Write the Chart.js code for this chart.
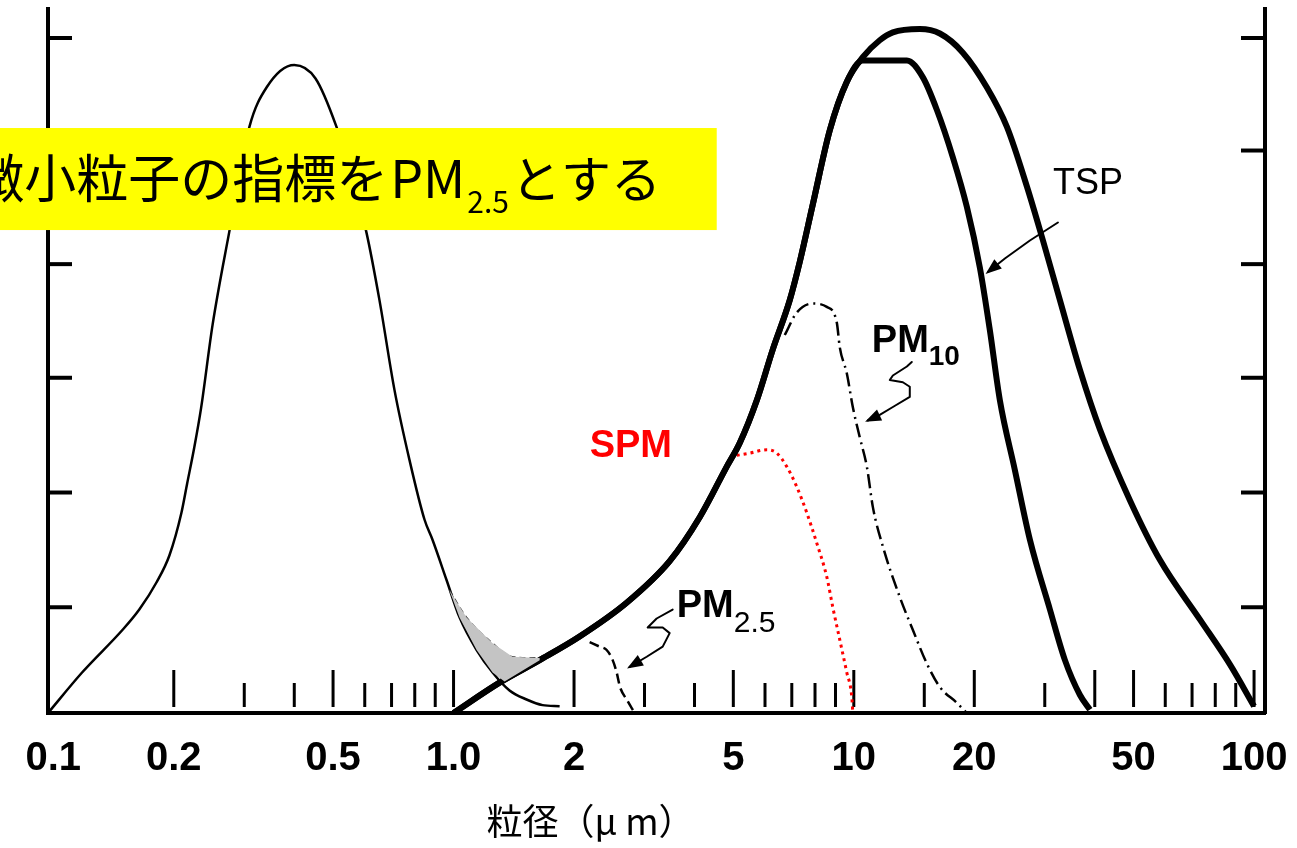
<!DOCTYPE html>
<html>
<head>
<meta charset="utf-8">
<script src="https://cdn.jsdelivr.net/npm/chart.js@4.4.1/dist/chart.umd.min.js"></script>
<style>
html,body{margin:0;padding:0;background:#fff;}
canvas{display:block;}
</style>
</head>
<body>
<canvas id="chart" width="1297" height="848"></canvas>
<script>
// particle diameter (um) on x, relative amount on y

// fine (accumulation) mode, thin line
var fineX = [0.097, 0.118, 0.149, 0.164, 0.181, 0.195, 0.209, 0.216, 0.225, 0.234, 0.250, 0.275, 0.309, 0.341, 0.400, 0.452, 0.510, 0.556, 0.606, 0.653, 0.712, 0.776, 0.846, 0.886, 0.961, 1.035, 1.142, 1.252, 1.380, 1.522, 1.669, 1.841];
var fineY = [0, 0.36, 0.74, 0.92, 1.16, 1.40, 1.78, 2.04, 2.36, 2.71, 3.45, 4.27, 5.21, 5.56, 5.76, 5.64, 5.21, 4.78, 4.27, 3.67, 2.87, 2.25, 1.72, 1.54, 1.18, 0.85, 0.56, 0.36, 0.20, 0.12, 0.07, 0.06];

// coarse mode rising side, shared by TSP and PM10 thick curves
var riseX = [1.0, 1.303, 1.641, 2.065, 2.707, 3.467, 4.121, 4.815, 5.188, 5.724, 6.273, 6.918, 7.328, 7.898, 8.710, 9.605];
var riseY = [0, 0.27, 0.47, 0.68, 0.98, 1.35, 1.74, 2.19, 2.40, 2.78, 3.23, 3.67, 4.01, 4.52, 5.18, 5.61];

// TSP falling side
var tspX = [10.53, 11.61, 12.52, 14.62, 16.41, 18.73, 21.51, 24.13, 27.07, 29.69, 32.73, 36.73, 41.21, 48.98, 58.21, 73.28, 87.10, 100];
var tspY = [5.83, 5.98, 6.05, 6.08, 6.04, 5.87, 5.56, 5.21, 4.68, 4.20, 3.67, 3.05, 2.52, 1.89, 1.36, 0.83, 0.43, 0.06];

// inner thick curve falling side
var innerX = [10.53, 10.96, 13.57, 14.88, 16.13, 17.68, 19.16, 20.65, 21.88, 23.17, 25.26, 27.54, 30.90, 33.69, 36.73, 38.90];
var innerY = [5.80, 5.80, 5.80, 5.65, 5.36, 4.94, 4.50, 3.96, 3.40, 2.78, 2.16, 1.54, 0.92, 0.47, 0.16, 0.03];

// PM10 (dash-dot)
var pm10X = [6.722, 7.205, 7.898, 8.561, 9.069, 9.226, 9.605, 9.943, 10.35, 10.78, 11.16, 11.82, 13.03, 14.04, 15.22, 16.41, 18.10, 19.16];
var pm10Y = [3.36, 3.56, 3.64, 3.61, 3.47, 3.25, 3.02, 2.72, 2.45, 2.19, 1.83, 1.48, 1.03, 0.74, 0.44, 0.23, 0.09, 0];

// SPM (red dotted)
var spmX = [5.099, 5.495, 6.062, 6.421, 6.801, 7.205, 7.63, 8.082, 8.561, 8.862, 9.226, 9.605, 9.886, 9.943];
var spmY = [2.29, 2.31, 2.34, 2.31, 2.19, 2.01, 1.78, 1.51, 1.21, 0.94, 0.65, 0.36, 0.14, 0];

// PM2.5 (dashed)
var pm25X = [2.188, 2.317, 2.413, 2.498, 2.556, 2.606, 2.707, 2.835];
var pm25Y = [0.63, 0.59, 0.56, 0.47, 0.36, 0.23, 0.12, 0];

// grey overlap region and its dashed upper edge
var shadeX = [0.977, 1.078, 1.252, 1.404, 1.641, 1.641, 1.341, 1.252, 1.142, 1.035, 0.977];
var shadeY = [1.09, 0.85, 0.62, 0.50, 0.49, 0.47, 0.28, 0.36, 0.56, 0.85, 1.09];
var shadeTopX = [0.977, 1.078, 1.252, 1.404, 1.641];
var shadeTopY = [1.09, 0.85, 0.62, 0.50, 0.49];

// axis ticks
var xLabels = [0.1, 0.2, 0.5, 1, 2, 5, 10, 20, 50, 100];
var xMajor = [0.2, 0.5, 1, 2, 5, 10, 20, 40, 50, 100];
var xMinor = [0.3, 0.4, 0.6, 0.7, 0.8, 0.9, 3, 4, 6, 7, 8, 9, 15, 30, 60, 70, 80, 90];
var yTicks = [0.94, 1.96, 2.98, 3.99, 5.0, 6.0];

function pts(xs, ys) {
	return xs.map(function(x, i) { return {x: x, y: ys[i]}; });
}

var overlay = {
	id: 'overlay',
	beforeDatasetsDraw: function(chart) {
		var c = chart.ctx, a = chart.chartArea;
		var xs = chart.scales.x, ys = chart.scales.y;
		c.save();
		c.strokeStyle = '#000';
		c.lineWidth = 3;
		xMajor.forEach(function(v) {
			var p = xs.getPixelForValue(v);
			c.beginPath(); c.moveTo(p, a.bottom - 6); c.lineTo(p, a.bottom - 43); c.stroke();
		});
		xMinor.forEach(function(v) {
			var p = xs.getPixelForValue(v);
			c.beginPath(); c.moveTo(p, a.bottom - 6); c.lineTo(p, a.bottom - 30); c.stroke();
		});
		c.lineWidth = 4;
		yTicks.forEach(function(v) {
			var p = ys.getPixelForValue(v);
			c.beginPath(); c.moveTo(a.left, p); c.lineTo(a.left + 24, p); c.stroke();
			c.beginPath(); c.moveTo(a.right - 24, p); c.lineTo(a.right, p); c.stroke();
		});
		c.restore();
	},
	afterDraw: function(chart, args, o) {
		var c = chart.ctx, a = chart.chartArea;
		var xs = chart.scales.x, ys = chart.scales.y;
		function X(v) { return xs.getPixelForValue(v); }
		function Y(v) { return ys.getPixelForValue(v); }
		function txt(s, x, y, font, color) {
			c.font = font; c.fillStyle = color || '#000';
			c.textAlign = 'left'; c.textBaseline = 'alphabetic';
			c.fillText(s, x, y);
			return x + c.measureText(s).width;
		}
		c.save();

		// arrows
		c.strokeStyle = '#000'; c.fillStyle = '#000';
		c.lineWidth = 2; c.lineJoin = 'round'; c.lineCap = 'round';
		o.arrows.forEach(function(path) {
			c.beginPath();
			path.forEach(function(p, i) {
				if (i === 0) c.moveTo(X(p[0]), Y(p[1])); else c.lineTo(X(p[0]), Y(p[1]));
			});
			c.stroke();
			var n = path.length;
			var x1 = X(path[n - 2][0]), y1 = Y(path[n - 2][1]);
			var x2 = X(path[n - 1][0]), y2 = Y(path[n - 1][1]);
			var ang = Math.atan2(y2 - y1, x2 - x1);
			c.beginPath();
			c.moveTo(x2 + 3 * Math.cos(ang), y2 + 3 * Math.sin(ang));
			c.lineTo(x2 - 13 * Math.cos(ang) + 6 * Math.sin(ang), y2 - 13 * Math.sin(ang) - 6 * Math.cos(ang));
			c.lineTo(x2 - 13 * Math.cos(ang) - 6 * Math.sin(ang), y2 - 13 * Math.sin(ang) + 6 * Math.cos(ang));
			c.closePath();
			c.fill();
		});

		// yellow caption box
		var b = o.box;
		c.fillStyle = '#ffff00';
		c.fillRect(0, Y(b.top), X(b.right), Y(b.bottom) - Y(b.top));
		var cjk = '"Noto Sans CJK JP", sans-serif';
		var bx = X(b.textX), by = Y(b.textY);
		bx = txt('微小粒子の指標を', bx, by, '52px ' + cjk);
		bx = txt('PM', bx + 2, by, '52px ' + cjk);
		bx = txt('2.5', bx + 2, by + 15, '30px ' + cjk);
		txt('とする', bx + 2, by, '50px ' + cjk);

		// curve labels
		var sans = '"Liberation Sans", Arial, sans-serif';
		txt('TSP', X(o.labels.tsp[0]), Y(o.labels.tsp[1]), '36px ' + sans);
		var px = txt('PM', X(o.labels.pm10[0]), Y(o.labels.pm10[1]), 'bold 38px ' + sans);
		txt('10', px, Y(o.labels.pm10[1]) + 13, 'bold 28px ' + sans);
		txt('SPM', X(o.labels.spm[0]), Y(o.labels.spm[1]), 'bold 38px ' + sans, '#ff0000');
		px = txt('PM', X(o.labels.pm25[0]), Y(o.labels.pm25[1]), 'bold 38px ' + sans);
		txt('2.5', px, Y(o.labels.pm25[1]) + 15, '30px ' + sans);

		// axis title
		c.font = '36px ' + cjk; c.fillStyle = '#000';
		c.textAlign = 'center'; c.textBaseline = 'middle';
		c.fillText('粒径（μ m）', X(o.titleX), a.bottom + 108);
		c.restore();
	}
};

var ctx = document.getElementById('chart');

var chart = new Chart(ctx, {
	type: 'line',
	data: {
		datasets: [
			{
				label: 'overlap',
				data: pts(shadeX, shadeY),
				fill: 'shape',
				backgroundColor: '#c4c4c4',
				borderWidth: 0,
				tension: 0
			},
			{
				label: 'overlap edge',
				data: pts(shadeTopX, shadeTopY),
				borderColor: '#333',
				borderWidth: 1.5,
				borderDash: [6, 4],
				fill: false,
				cubicInterpolationMode: 'monotone'
			},
			{
				label: 'fine',
				data: pts(fineX, fineY),
				borderColor: '#000',
				borderWidth: 2.5,
				fill: false,
				cubicInterpolationMode: 'monotone'
			},
			{
				label: 'TSP',
				data: pts(riseX.concat(tspX), riseY.concat(tspY)),
				borderColor: '#000',
				borderWidth: 6,
				fill: false,
				cubicInterpolationMode: 'monotone'
			},
			{
				label: 'inner',
				data: pts(riseX.concat(innerX), riseY.concat(innerY)),
				borderColor: '#000',
				borderWidth: 6,
				fill: false,
				cubicInterpolationMode: 'monotone'
			},
			{
				label: 'PM10',
				data: pts(pm10X, pm10Y),
				borderColor: '#000',
				borderWidth: 2.5,
				borderDash: [14, 5, 2, 5],
				fill: false,
				cubicInterpolationMode: 'monotone'
			},
			{
				label: 'SPM',
				data: pts(spmX, spmY),
				borderColor: '#ff0000',
				borderWidth: 3,
				borderDash: [3, 4],
				fill: false,
				cubicInterpolationMode: 'monotone'
			},
			{
				label: 'PM2.5',
				data: pts(pm25X, pm25Y),
				borderColor: '#000',
				borderWidth: 2.5,
				borderDash: [10, 5],
				fill: false,
				cubicInterpolationMode: 'monotone'
			}
		]
	},
	options: {
		responsive: false,
		animation: false,
		layout: { padding: { left: 48, top: 9, right: 32, bottom: 43 } },
		elements: { point: { radius: 0 } },
		plugins: {
			legend: { display: false },
			tooltip: { enabled: false },
			overlay: {
				box: { right: 4.545, top: 5.2, bottom: 4.293, textX: 0.0627, textY: 4.58 },
				labels: { tsp: [31.45, 4.61], pm10: [11.09, 3.21], spm: [2.188, 2.28], pm25: [3.61, 0.85] },
				titleX: 2.2,
				arrows: [
					[[32.36, 4.36], [27.54, 4.20], [23.85, 4.04], [21.63, 3.92]],
					[[13.96, 3.12], [13.57, 3.08], [12.52, 3.00], [12.30, 2.96], [13.26, 2.94], [13.80, 2.90], [13.80, 2.81], [12.52, 2.72], [11.61, 2.65], [10.84, 2.60]],
					[[3.527, 0.92], [3.217, 0.84], [3.055, 0.76], [3.331, 0.76], [3.467, 0.71], [3.331, 0.59], [3.038, 0.50], [2.754, 0.41]]
				]
			}
		},
		scales: {
			x: {
				type: 'logarithmic',
				min: 0.097,
				max: 106.5,
				afterBuildTicks: function(scale) {
					scale.ticks = xLabels.map(function(v) { return {value: v}; });
				},
				ticks: {
					autoSkip: false,
					maxRotation: 0,
					padding: 0,
					color: '#000',
					font: { family: '"Liberation Sans", Arial, sans-serif', weight: 'bold', size: 40, lineHeight: 2.3 },
					callback: function(v) { return v === 1 ? '1.0' : String(v); }
				},
				grid: { display: false, drawTicks: false },
				border: { display: true, color: '#000', width: 4 }
			},
			y: {
				min: 0,
				max: 6.258,
				ticks: { display: false },
				grid: { display: false, drawTicks: false },
				border: { display: true, color: '#000', width: 4 }
			},
			y2: {
				position: 'right',
				min: 0,
				max: 6.258,
				ticks: { display: false },
				grid: { display: false, drawTicks: false },
				border: { display: true, color: '#000', width: 4 }
			}
		}
	},
	plugins: [overlay]
});
</script>
</body>
</html>
